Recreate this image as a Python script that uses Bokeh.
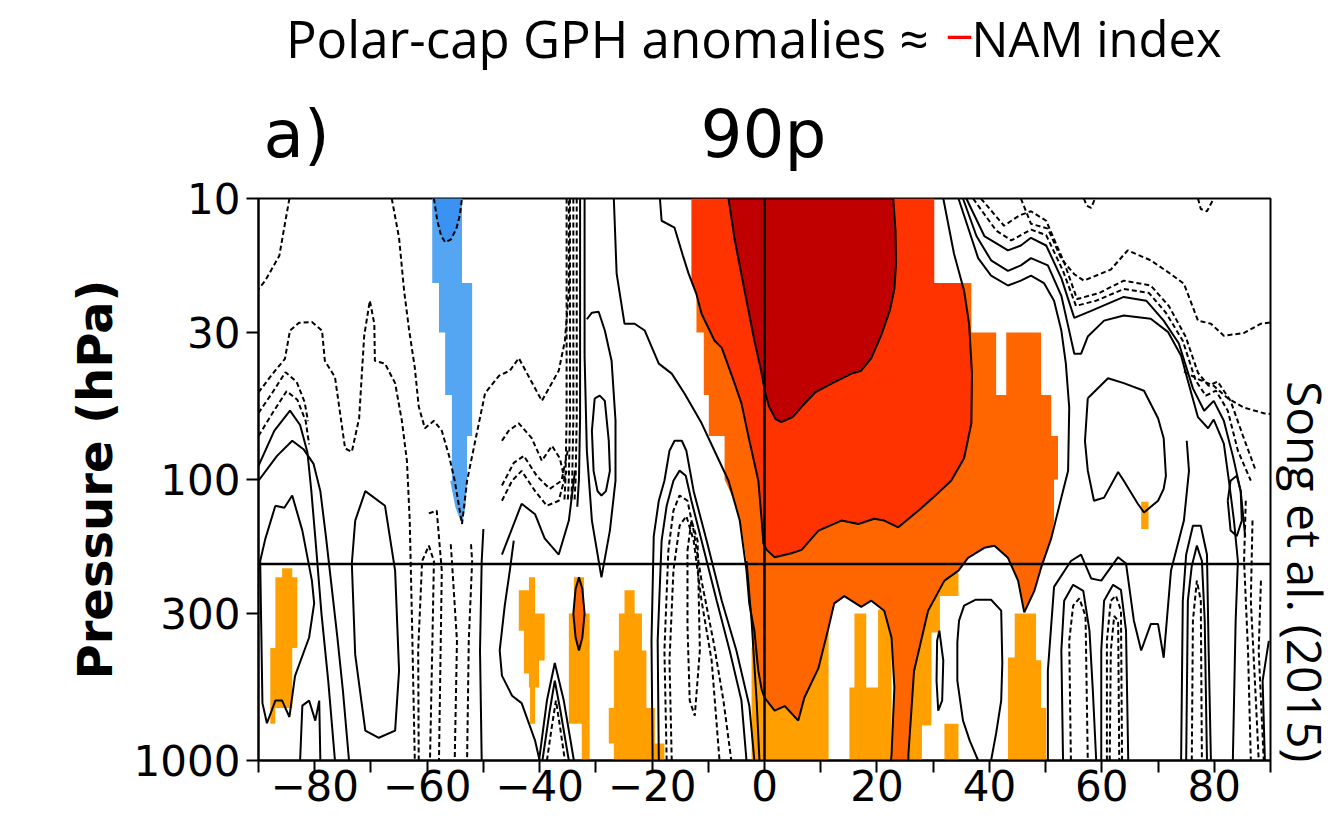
from bokeh.plotting import figure
from bokeh.layouts import column, row
from bokeh.models import Range1d, FixedTicker, Label, Span
from bokeh.embed import file_html
from bokeh.resources import INLINE
import math

# ---------------- axis ticks ----------------
LAG_TICKS = list(range(-90, 91, 10))
LAG_TICK_TEXT = ["", "\u221280", "", "\u221260", "", "\u221240", "", "\u221220", "",
                 "0", "", "20", "", "40", "", "60", "", "80", ""]
P_TICKS = [10, 30, 100, 300, 1000]
P_TICK_TEXT = ["10", "30", "100", "300", "1000"]

# ---------------- shaded regions: (lag [days], pressure [hPa]) ----------------
DARK_RED = [(-6.4, 10), (-5.3, 14), (-3.6, 21), (-1.8, 32), (-0.6, 41), (0, 48), (0.8, 55), (2, 61),
            (3, 62.5), (5, 60), (7, 54), (9, 49), (12, 45.5), (15.5, 42), (17.2, 41), (19, 37),
            (20.8, 30.5), (22.3, 25), (23.1, 21), (23.4, 17), (23.3, 13), (22.9, 10)]
RED_ORANGE = [(-13, 10), (-13, 20), (-12.1, 21.9), (-11.2, 25.7), (-8.9, 32), (-7.6, 34), (-5.3, 45.6),
              (-4.1, 53.6), (-2.8, 71), (-1.1, 101), (-0.5, 140), (-0.2, 169), (0.4, 178), (1.8, 189),
              (4.8, 183), (6.6, 178), (9.6, 152), (13.7, 140), (16.7, 144), (19.5, 138), (21.3, 140),
              (23.8, 148), (27.4, 129), (30, 116), (33.2, 101), (35.5, 84), (36.8, 63), (36.9, 42),
              (36.4, 28), (35.5, 21.3), (35.2, 20), (30.2, 20), (30.2, 10)]
ORANGE = [(-12.1, 20), (-12.1, 30), (-10.8, 30), (-10.8, 50), (-9.9, 50), (-9.9, 70), (-7.1, 70),
          (-7.1, 100), (-5.3, 120), (-4.1, 150), (-3.2, 195), (-2.5, 270), (-2.2, 350), (-1.5, 450),
          (-0.5, 560), (0, 597), (1.8, 665), (3.6, 640), (6.0, 721), (7.1, 597), (9.6, 469),
          (11.4, 336), (12.4, 276), (14.2, 260), (17.2, 284), (19, 270), (21.3, 293), (22.6, 366),
          (23.1, 550), (22.6, 950), (22.5, 1000), (25.6, 1000), (25.6, 950), (26.6, 480), (29.1, 293),
          (32, 229), (34.5, 211), (36.2, 190), (39.1, 175), (40.9, 172), (43.3, 190), (45.1, 229),
          (46.2, 297), (48, 249), (49.2, 206), (51, 162), (51.5, 140), (51.5, 100), (52.2, 100),
          (52.2, 70), (51.0, 70), (51.0, 50), (49.2, 50), (49.2, 30), (43, 30), (43, 50), (41.2, 50),
          (41.2, 30), (36.8, 30), (36.8, 20)]
ORANGE_CELL = [(-33, 223), (-32.4, 245), (-32.0, 300), (-32.4, 365), (-33, 406), (-33.6, 365),
               (-34.0, 300), (-33.6, 245)]
LO_A = [(-2.3, 400), (-2.3, 1000), (11.4, 1000), (11.4, 250), (0, 250)]
LO_B = [(16.0, 300), (16.0, 550), (15.1, 550), (15.1, 1000), (22.6, 1000), (22.6, 290), (20.2, 290),
        (20.2, 550), (18.1, 550), (18.1, 300)]
LO_C = [(25.6, 230), (25.6, 1000), (28.0, 1000), (28.0, 750), (29.7, 750), (29.7, 350), (31.2, 350),
        (31.2, 260), (34.5, 260), (34.5, 215), (25.6, 215)]
LO_D = [(32.0, 740), (32.0, 1000), (34.5, 1000), (34.5, 740)]
LO_E = [(44.5, 300), (44.5, 430), (43.3, 430), (43.3, 1000), (50.1, 1000), (50.1, 650), (49.2, 650),
        (49.2, 440), (48.3, 440), (48.3, 300)]
LO_F = [(67.0, 120), (67.0, 150), (68.3, 150), (68.3, 120)]
LO_G = [(-85.8, 207), (-85.8, 223), (-87.0, 223), (-87.0, 398), (-87.9, 398), (-87.9, 740), (-87.0, 740),
        (-87.0, 650), (-84.0, 650), (-84.0, 398), (-83.1, 398), (-83.1, 223), (-84.0, 223), (-84.0, 207)]
LO_H = [(-41.9, 223), (-41.9, 248), (-43.7, 248), (-43.7, 345), (-42.8, 345), (-42.8, 490), (-41.9, 490),
        (-41.9, 550), (-41.7, 550), (-41.7, 740), (-40.8, 740), (-40.8, 550), (-40.1, 550), (-40.1, 441),
        (-39.1, 441), (-39.1, 300), (-40.8, 300), (-40.8, 223)]
LO_I = [(-33.9, 223), (-33.9, 300), (-34.8, 300), (-34.8, 740), (-32.5, 740), (-32.5, 1000),
        (-31.1, 1000), (-31.1, 300), (-32.1, 300), (-32.1, 223)]
LO_J = [(-24.9, 248), (-24.9, 300), (-25.9, 300), (-25.9, 406), (-26.8, 406), (-26.8, 650), (-27.7, 650),
        (-27.7, 870), (-26.8, 870), (-26.8, 1000), (-17.8, 1000), (-17.8, 870), (-19.5, 870), (-19.5, 650),
        (-21.0, 650), (-21.0, 406), (-21.8, 406), (-21.8, 300), (-23.1, 300), (-23.1, 248)]
BLUE = [(-59.1, 10), (-59.1, 20), (-57.9, 20), (-57.9, 30), (-56.8, 30), (-56.8, 50), (-55.6, 50),
        (-55.6, 101), (-55.9, 101), (-55.0, 125), (-53.8, 145), (-53.2, 125), (-52.9, 101), (-52.9, 70),
        (-52.0, 70), (-52.0, 20), (-53.8, 20), (-53.8, 10)]
BLUE_DARK = [(-58.8, 10), (-58.2, 12), (-57.5, 13.6), (-56.8, 14.3), (-55.8, 14), (-54.8, 12.8),
             (-54.2, 11.5), (-53.8, 10)]

# ---------------- solid contours (positive) ----------------
C_S2 = [(-18.6, 10), (-18.3, 12), (-16, 12.7), (-14.5, 16), (-13.5, 18.5), (-12.1, 21.9), (-11.2, 25.7),
        (-8.9, 32), (-7.6, 34), (-5.3, 45.6), (-4.1, 53.6), (-2.8, 71), (-1.1, 101), (-0.5, 140),
        (-0.2, 169), (0.4, 178), (1.8, 189), (4.8, 183), (6.6, 178), (9.6, 152), (13.7, 140),
        (16.7, 144), (19.5, 138), (21.3, 140), (23.8, 148), (27.4, 129), (30, 116), (33.2, 101),
        (35.5, 84), (36.8, 63), (36.9, 42), (36.4, 28), (35.5, 21.3), (33.7, 15.7), (31.8, 10)]
C_S3 = [(-26.8, 10), (-26.3, 18.5), (-24.9, 27.9), (-23.1, 27.9), (-21.3, 29.5), (-18.8, 38.7),
        (-16.5, 42), (-14.2, 49.5), (-11.2, 63), (-8.9, 79), (-6.4, 101), (-4.4, 140), (-3.2, 211),
        (-2.7, 277), (-1.8, 345), (-1.1, 480), (-0.5, 560), (0, 597), (1.8, 665), (3.6, 640), (6.0, 721),
        (7.1, 597), (9.6, 469), (11.4, 336), (12.4, 276), (14.2, 260), (17.2, 284), (19, 270),
        (21.3, 293), (22.6, 366), (23.1, 550), (22.6, 950), (22.5, 1000)]
C_S3B = [(25.6, 1000), (25.6, 950), (26.6, 480), (29.1, 293), (32, 229), (34.5, 211), (36.2, 190),
         (39.1, 175), (40.9, 172), (43.3, 190), (45.1, 229), (46.2, 297), (48, 249), (49.2, 206),
         (51, 162), (52.8, 116), (54, 93), (54.2, 55.5), (53.6, 38.7), (52.8, 29.5), (51.5, 23.1),
         (49.7, 20), (47.4, 18.8), (45.6, 19.6), (43.3, 20.4), (40.3, 18.8), (38, 16.3), (35.5, 11.5),
         (34.5, 10)]
C_S4 = [(35.3, 10), (37.7, 13.6), (40.3, 16.6), (43.3, 18.1), (45.6, 17.3), (47.4, 16.3), (50.4, 17.3),
        (52.8, 22.2), (54, 28.4), (55.1, 35.7), (56.3, 35.7), (57.5, 31), (60.4, 27.2), (63.9, 26.1),
        (68.7, 26.8), (71.8, 29.9), (74.1, 36.3), (75.3, 44.5), (77.1, 60), (78.9, 65.7), (79.9, 61.2),
        (81.7, 74.5), (82.6, 101), (83.5, 140), (84.2, 195), (83.8, 318), (83.3, 1000)]
C_S5 = [(35.9, 10), (39.1, 13.6), (43.3, 15.3), (45.6, 14.7), (47.4, 13.8), (50.1, 14.7), (52.8, 19.2),
        (55.1, 26.6), (58.1, 25.1), (63.9, 22.4), (67.9, 23.1), (71.0, 27.2), (73.7, 32.8), (76.2, 47.4),
        (78.2, 56.9), (79.9, 52.5), (81.7, 61.8), (83.3, 82.4), (84.7, 110), (85.5, 160)]
C_R1 = [(57.5, 51.4), (61.1, 43.6), (63.9, 45.4), (67.5, 48.3), (70, 60.5), (71, 71.3), (71.4, 97),
        (71, 108), (70, 119), (67.5, 131), (66.4, 122), (63.9, 101), (62.9, 94), (60.4, 116), (58.6, 119),
        (57.5, 93), (57, 73), (57.5, 51.4)]
C_Z8A = [(50.4, 1000), (50.4, 479), (51.5, 241), (54.5, 195), (56.3, 185), (58.1, 225), (59.9, 229),
         (62.9, 189), (64.3, 199), (65.7, 318), (67, 406), (68.7, 327), (70, 327), (71, 431), (72.3, 211),
         (74.6, 140), (75.5, 93.2), (75.1, 72.8)]
C_LOOPA = [(53.1, 1000), (52.8, 406), (53.3, 270), (54.9, 237), (56.7, 249), (57.8, 345), (58.4, 564),
           (59, 1000)]
C_LOOPB = [(59.9, 1000), (59.9, 406), (60.4, 270), (62, 237), (63.4, 247), (64.3, 345), (64.7, 1000)]
C_U1 = [(74.1, 1000), (74.4, 270), (75, 185), (76.2, 146), (77.6, 146), (78.7, 185), (79, 406),
        (79.4, 1000)]
C_U1B = [(75, 1000), (75.3, 270), (76, 203), (76.9, 172), (77.8, 195), (78.3, 318), (78.7, 1000)]
C_O1 = [(82.4, 119), (82.9, 101), (84, 97), (84.7, 110), (84.9, 140), (84, 159), (82.9, 152), (82.4, 119)]
C_O2 = [(31.1, 345), (31.8, 441), (31.6, 612), (30.9, 665), (30.6, 520), (30.7, 375), (31.1, 345)]
C_O3 = [(38, 1000), (36.5, 850), (35.3, 720), (34.3, 520), (34.3, 380), (34.6, 318), (35.5, 281),
        (37.5, 268), (40.3, 268), (42.1, 293), (42.3, 450), (42.1, 612), (41.2, 800), (40.3, 1000)]
C_V0 = [(-3.2, 195), (-2.3, 318), (-1.4, 612), (-0.9, 1000)]
C_L1 = [(-19.9, 1000), (-20.1, 375), (-19.7, 159), (-18.8, 119), (-17.8, 101), (-16.9, 79), (-16, 72.8),
        (-14.7, 72.8), (-13.9, 79), (-12.6, 110), (-10.3, 165), (-7.6, 270), (-5, 406), (-2.7, 638),
        (-1.8, 1000)]
C_L2 = [(-18.8, 1000), (-19, 375), (-18.3, 165), (-17.4, 124), (-16.2, 101), (-15.1, 93), (-14, 97),
        (-13, 119), (-11.2, 165), (-8.5, 270), (-6.2, 406), (-4.1, 612), (-3.2, 1000)]
C_G = [(-87, 124), (-85.4, 126), (-84, 114), (-82.2, 152), (-80.5, 229), (-80.1, 276), (-81, 365),
       (-83.5, 500), (-84.5, 700), (-85.8, 612), (-87, 612), (-88.5, 737), (-89.3, 625), (-89.7, 195),
       (-88.8, 163), (-87, 124)]
C_LB3 = [(-90, 89.4), (-87.2, 67.1), (-84.4, 56.9), (-82.6, 64), (-81.3, 80), (-80.6, 110), (-79.8, 170),
         (-78.8, 300), (-77.6, 520), (-76.4, 1000)]
C_LB4 = [(-90, 101), (-86.7, 82.4), (-84, 72.8), (-82, 78), (-80.2, 88), (-79, 110), (-78, 160),
         (-77, 240), (-76, 360), (-75, 560), (-73.9, 1000)]
C_SB = [(-82.6, 1000), (-82.2, 638), (-81, 612), (-79.9, 721), (-79.2, 612), (-79, 1000)]
C_TL = [(-72.8, 140), (-71, 110), (-67.5, 124), (-65.7, 211), (-65, 479), (-65.7, 783), (-68.6, 830),
        (-71, 783), (-72.8, 420), (-73.4, 199), (-72.8, 140)]
C_SV1 = [(-32, 10), (-32, 36.3), (-31.6, 79), (-30.7, 140), (-29, 223), (-27.5, 152), (-26.5, 101),
         (-26.5, 61.8), (-27.2, 37.8), (-28.4, 29.5), (-29.5, 25.3), (-30.7, 25.5), (-31.6, 26.9)]
C_EL = [(-30.2, 51.4), (-29.3, 50.3), (-28.4, 52.5), (-27.7, 72.8), (-27.5, 93.2), (-28.2, 110),
        (-29, 114), (-29.7, 110), (-30.4, 93.2), (-30.7, 67.1), (-30.2, 51.4)]
C_BAND = [(-32.8, 10), (-32.8, 60), (-33.0, 100), (-33.3, 125)]
C_H1 = [(-46.7, 185), (-43.2, 122), (-40.8, 133), (-39.1, 162), (-36.6, 185), (-34.8, 140), (-33.7, 93)]
C_SV3 = [(-50, 150), (-50.3, 195), (-50.6, 406), (-50.3, 1000)]
C_SV4 = [(-44.6, 165), (-45.3, 211), (-46.2, 281), (-47.1, 406), (-46.7, 499), (-44.9, 588),
         (-43.2, 625), (-40.8, 850), (-40, 1000)]
C_BL1 = [(-40.1, 1000), (-38.7, 612), (-37.3, 450), (-35.7, 612), (-33.9, 1000)]
C_BL2 = [(-39.5, 1000), (-38.2, 665), (-37.3, 520), (-36.3, 665), (-34.8, 1000)]
C_RS1 = [(89.7, 375), (88.6, 520), (89, 1000)]

# ---------------- dashed contours (negative) ----------------
D_D1 = [(37.1, 10), (41.2, 13), (43.9, 14.1), (47.4, 12.9), (50.1, 13.5), (53.1, 18.1), (55.4, 24.1),
        (59, 23.1), (63.9, 21), (68.4, 21.7), (71.4, 25.5), (74.4, 32.1), (76.7, 44.5), (78.5, 50.3),
        (80.3, 48.3), (82.4, 56.9), (84.2, 79), (86.5, 101)]
D_D2 = [(38.5, 10), (42.6, 12.5), (45.3, 11.5), (47.4, 11.1), (50.1, 12), (53.3, 16.9), (55.6, 22.8),
        (59.5, 21.7), (63.9, 19.6), (68.7, 20.4), (71.9, 24.1), (74.9, 31), (77.1, 41.7), (79, 46.4),
        (80.6, 44.8), (82.9, 52.5), (85.1, 69.9), (87.4, 93.2)]
D_OUT = [(45.6, 10), (47.4, 12.3), (50.4, 12.8), (52.8, 16.4), (55.1, 18.6), (56.8, 19.6), (61.6, 17.9),
         (64.6, 15.3), (68.7, 16.6), (72.3, 18.6), (74.6, 20.1), (77.1, 27.2), (79.4, 27.9), (81.7, 30.8),
         (85.3, 30.1), (88.3, 27.9), (90, 27.6)]
D_D3 = [(74.6, 41.3), (77.1, 43.9), (79.9, 46.4), (82.4, 51.4), (85.3, 55.5), (88.8, 58.1), (90, 58.5)]
D_B1 = [(56.8, 10), (57.3, 10.6), (58.1, 10.8), (58.8, 10)]
D_B2 = [(77.1, 10), (77.6, 10.9), (78.7, 11.1), (79.9, 10)]
D_DL1 = [(-84.5, 10), (-85.3, 12.3), (-86.3, 16), (-88.8, 19.6), (-90, 21)]
D_DL2 = [(-90, 49), (-87.6, 42.3), (-85.3, 37.2), (-84.4, 29.5), (-82.8, 27.7), (-80.5, 27.5),
         (-78.7, 29.5), (-78.2, 37.8), (-76.4, 43.2), (-74.6, 77.5), (-73.4, 79.7), (-72.1, 60.5),
         (-71.2, 30.8), (-70.2, 23.1), (-69.4, 27.9), (-69.3, 37.8), (-67.5, 38.7), (-65.7, 45.4),
         (-64.5, 61.8), (-63.6, 85.8), (-63.1, 140), (-62.7, 318), (-62.2, 1000)]
D_DL3 = [(-66.3, 10), (-65, 13.8), (-64.1, 21.3), (-63.2, 29.5), (-62.2, 40), (-61.5, 55), (-60.4, 65.7),
         (-58.8, 61.8), (-57.4, 67.1), (-56.1, 82.4), (-55.1, 101), (-53.8, 144), (-52.9, 101),
         (-52, 82.4), (-49.7, 49.3), (-47.2, 42.7), (-45.3, 41), (-43.7, 37), (-39.6, 52.5), (-36.6, 41),
         (-35.5, 32.1), (-34.8, 21.3), (-34.8, 10)]
D_LB1 = [(-90, 58), (-87.8, 50), (-85.2, 41.5), (-83.2, 45), (-81.8, 53), (-81.2, 62)]
D_LB2 = [(-90, 70), (-87.5, 58), (-85, 48.5), (-83.1, 52), (-81.6, 62), (-81, 75)]
D_H2 = [(-46.7, 119), (-44.9, 101), (-43.2, 93.2), (-40.8, 110), (-38.7, 124), (-36.6, 119), (-35.2, 93.2)]
D_H3 = [(-46.7, 105), (-44.6, 87.3), (-42.8, 82.4), (-40.5, 97.1), (-38.2, 108), (-36.1, 101), (-35, 79)]
D_H4 = [(-46.7, 72.8), (-45.5, 67.1), (-43.7, 63.1), (-41.4, 71.3), (-39.6, 85.8), (-37.8, 75.9),
        (-36.4, 84.1), (-35.5, 101)]
D_BAND1 = [(-35.2, 10), (-35.2, 60), (-35.4, 100), (-35.6, 120)]
D_BAND2 = [(-34.6, 10), (-34.6, 60), (-34.8, 100), (-35.0, 120)]
D_BAND3 = [(-34.0, 10), (-34.0, 60), (-34.2, 100), (-34.4, 120)]
D_BAND4 = [(-33.4, 10), (-33.4, 60), (-33.6, 100), (-33.8, 120)]
D_L3 = [(-17.4, 1000), (-17.8, 406), (-17.1, 179), (-16.2, 129), (-15.1, 114), (-13.7, 119), (-12.6, 152),
        (-11.2, 229), (-9.1, 375), (-7.3, 612), (-5.9, 1000)]
D_L4 = [(-16.5, 1000), (-16.9, 441), (-16.2, 211), (-15.1, 146), (-13.9, 135), (-12.6, 165), (-11.2, 270),
        (-9.4, 441), (-8, 1000)]
D_LIN = [(-13.7, 179), (-13, 140), (-11.9, 165), (-11.5, 406), (-12.4, 693), (-13.3, 612), (-13.7, 332),
         (-13.7, 179)]
D_A1 = [(54.5, 1000), (54.2, 375), (54.9, 281), (56, 265), (57.1, 306), (57.5, 1000)]
D_B1B = [(60.9, 1000), (60.9, 375), (61.6, 270), (62.5, 259), (63.4, 293), (63.6, 1000)]
D_B2B = [(61.4, 1000), (61.6, 406), (62.2, 306), (62.9, 318), (63.1, 1000)]
D_U1C = [(76, 1000), (76.2, 318), (76.9, 229), (77.6, 270), (77.8, 1000)]
D_DV3 = [(-61.5, 1000), (-61.6, 406), (-60.9, 195), (-59.7, 172), (-58.8, 195), (-59.1, 406), (-59.5, 1000)]
D_DV4 = [(-59.7, 132), (-58.3, 129), (-57.4, 211), (-57.9, 1000)]
D_DV5 = [(-55.8, 170), (-55.6, 195), (-54.7, 375), (-55.1, 1000)]
D_DV6 = [(-52.2, 170), (-52, 195), (-52.6, 375), (-52.9, 1000)]
D_RD1 = [(85.6, 119), (85.3, 195), (86, 406), (86.5, 1000)]
D_RD2 = [(86.8, 140), (86.5, 270), (87.4, 612), (87.9, 1000)]
D_RD3 = [(88.3, 229), (87.9, 406), (88.8, 1000)]
D_BL3 = [(-38.7, 1000), (-37.8, 752), (-37.1, 612), (-36.4, 752), (-35.5, 1000)]
D_BOWL = BLUE_DARK

SOLID = [C_S2, C_S3, C_S3B, C_S4, C_S5, C_R1, C_Z8A, C_LOOPA, C_LOOPB, C_U1, C_U1B, C_O1, C_O2, C_O3,
         C_V0, C_L1, C_L2, C_G, C_LB3, C_LB4, C_SB, C_TL, C_SV1, C_EL, C_BAND, C_H1, C_SV3, C_SV4,
         C_BL1, C_BL2, C_RS1]
DASHED = [D_D1, D_D2, D_OUT, D_D3, D_B1, D_B2, D_DL1, D_DL2, D_DL3, D_LB1, D_LB2, D_H2, D_H3, D_H4,
          D_BAND1, D_BAND2, D_BAND3, D_BAND4, D_L3, D_L4, D_LIN, D_A1, D_B1B, D_B2B, D_U1C, D_DV3,
          D_DV4, D_DV5, D_DV6, D_RD1, D_RD2, D_RD3, D_BL3, D_BOWL]


def split(pts):
    return [q[0] for q in pts], [q[1] for q in pts]


def patches(fig, polys, color, line_color=None, line_width=1):
    xs, ys = [], []
    for poly in polys:
        a, b = split(poly)
        xs.append(a)
        ys.append(b)
    fig.patches(xs, ys, fill_color=color, line_color=line_color, line_width=line_width)


def blank(width, height):
    f = figure(width=width, height=height, x_range=Range1d(0, width), y_range=Range1d(height, 0),
               output_backend="svg", toolbar_location=None, min_border=0,
               x_axis_location=None, y_axis_location=None)
    f.outline_line_color = None
    f.grid.visible = False
    return f


HEAD_H = 173

# ---------------- main chart ----------------
p = figure(width=1272, height=822 - HEAD_H, x_range=Range1d(-90, 90), y_range=Range1d(1000, 10),
           y_axis_type="log", output_backend="svg", toolbar_location=None,
           min_border_left=258, min_border_right=2, min_border_top=198 - HEAD_H, min_border_bottom=62)
p.xgrid.visible = False
p.ygrid.visible = False
p.outline_line_color = "black"
p.outline_line_width = 2

patches(p, [LO_A, LO_B, LO_C, LO_D, LO_E, LO_F, LO_G, LO_H, LO_I, LO_J], "#FFA000")
patches(p, [ORANGE], "#FF6600")
patches(p, [ORANGE_CELL], "#FF6600", line_color="black", line_width=2)
patches(p, [RED_ORANGE], "#FF3300")
patches(p, [DARK_RED], "#C00000", line_color="black", line_width=2)
patches(p, [BLUE], "#55A6F2")
patches(p, [BLUE_DARK], "#3A92F2")

sx, sy = zip(*[split(c) for c in SOLID])
p.multi_line(list(sx), list(sy), line_color="black", line_width=2)
dx, dy = zip(*[split(c) for c in DASHED])
p.multi_line(list(dx), list(dy), line_color="black", line_width=2, line_dash="5 3")

p.add_layout(Span(location=0, dimension="height", line_color="black", line_width=2.5))
p.add_layout(Span(location=200, dimension="width", line_color="black", line_width=2.5))

p.xaxis.ticker = FixedTicker(ticks=LAG_TICKS)
p.xaxis.major_label_overrides = {t: s for t, s in zip(LAG_TICKS, LAG_TICK_TEXT)}
p.yaxis.ticker = FixedTicker(ticks=P_TICKS)
p.yaxis.major_label_overrides = {t: s for t, s in zip(P_TICKS, P_TICK_TEXT)}
for ax in (p.xaxis, p.yaxis):
    ax.axis_line_width = 2
    ax.axis_line_color = "black"
    ax.major_tick_line_width = 2
    ax.major_tick_line_color = "black"
    ax.major_tick_out = 12
    ax.major_tick_in = 0
    ax.minor_tick_line_color = None
    ax.major_label_text_font = "DejaVu Sans"
    ax.major_label_text_font_size = "42px"
    ax.major_label_text_color = "black"
p.xaxis.major_label_standoff = -3
p.yaxis.major_label_standoff = 6
p.yaxis.axis_label = "Pressure (hPa)"
p.yaxis.axis_label_text_font = "DejaVu Sans"
p.yaxis.axis_label_text_font_style = "bold"
p.yaxis.axis_label_text_font_size = "48px"
p.yaxis.axis_label_text_color = "black"
p.yaxis.axis_label_standoff = 8

# ---------------- header with titles ----------------
head = blank(1338, HEAD_H)
head.add_layout(Label(x=928, y=37, text="Polar-cap GPH anomalies \u2248", text_align="right",
                      text_baseline="middle", text_font="Open Sans", text_font_size="51px",
                      text_color="black"))
head.add_layout(Label(x=959, y=37, text="\u2212", text_align="center", text_baseline="middle",
                      text_font="Open Sans", text_font_size="50px", text_color="#FF0000"))
head.add_layout(Label(x=971, y=37, text="NAM index", text_align="left", text_baseline="middle",
                      text_font="Open Sans", text_font_size="49px", text_color="black"))
head.add_layout(Label(x=263, y=134, text="a)", text_align="left", text_baseline="middle",
                      text_font="DejaVu Sans", text_font_size="66px", text_color="black"))
head.add_layout(Label(x=763, y=134, text="90p", text_align="center", text_baseline="middle",
                      text_font="DejaVu Sans", text_font_size="66px", text_color="black"))

# ---------------- right side citation ----------------
side = blank(66, 822 - HEAD_H)
side.add_layout(Label(x=33.2, y=604 - HEAD_H, text="Song et al. (2015)", text_align="center",
                      text_baseline="middle", angle=-math.pi / 2, text_font="Open Sans",
                      text_font_size="48px", text_color="black"))

layout = column(head, row(p, side))
open("out.html", "w").write(file_html(layout, INLINE))
